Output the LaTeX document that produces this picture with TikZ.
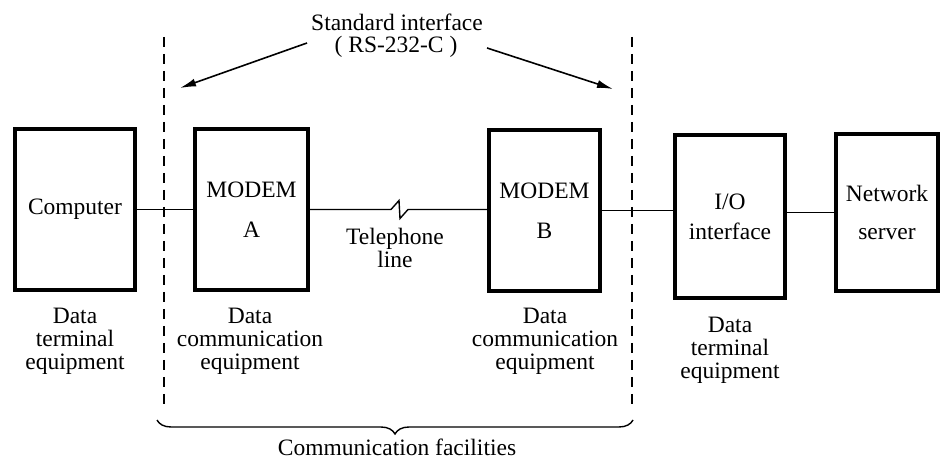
\documentclass[tikz,border=0pt]{standalone}
\usepackage{fontspec}
\setmainfont{Liberation Serif}
\usetikzlibrary{arrows.meta,decorations.pathreplacing,calc}
\begin{document}
\begin{tikzpicture}[x=0.5pt,y=-0.5pt,
  box/.style={draw,line width=2pt,inner sep=0pt,align=center,font=\fontsize{11.75}{14}\selectfont},
  lbl/.style={inner sep=0pt,align=center,font=\fontsize{11.75}{11.5}\selectfont},
  wire/.style={line width=0.7pt},
  sepline/.style={line width=0.7pt,dash pattern=on 5pt off 3.5pt},
  arr/.style={line width=0.8pt,-{Latex[length=8pt,width=4pt]}},
  bracestyle/.style={line width=0.7pt,decorate,decoration={brace,amplitude=7pt,mirror}}]
\useasboundingbox (0,0) rectangle (942,459);
% boxes
\node[box,minimum width=60pt,minimum height=80.5pt] (comp) at (75,209.5) {Computer};
\node[box,minimum width=56.5pt,minimum height=80.5pt] (modA) at (251.5,209.5) {MODEM\\[6pt]A};
\node[box,minimum width=55.5pt,minimum height=80.5pt] (modB) at (544.5,210.5) {MODEM\\[6pt]B};
\node[box,minimum width=55pt,minimum height=81.5pt] (io) at (730,216.5) {I/O\\[1pt]interface};
\node[box,minimum width=51pt,minimum height=78.5pt] (net) at (887,212.5) {Network\\[5pt]server};
% connectors
\draw[wire] (comp.east) -- (modA.west);
\draw[wire] (modA.east) -- ++(81,0) -- ++(8,-9) -- ++(1,18) -- ++(8,-9) -- (modB.west |- modA.east);
\draw[wire] (modB.east) -- (modB.east -| io.west);
\draw[wire] (io.east |- net.west) -- (net.west);
% dashed separators
\coordinate (dl1) at (164,37);
\coordinate (dl2) at (164,410);
\coordinate (dr1) at (632,37);
\coordinate (dr2) at (632,410);
\draw[sepline] (dl1) -- (dl2);
\draw[sepline] (dr1) -- (dr2);
% top labels and arrows
\node[lbl] (std) at (397,22) {Standard interface};
\node[lbl] (rs) at (396,47) {( RS-232-C )};
\coordinate (la) at (307,43);
\coordinate (lt) at (180,88);
\coordinate (ra) at (487,48);
\coordinate (rt) at (613,89);
\draw[arr] (la) -- (lt);
\draw[arr] (ra) -- (rt);
% telephone line
\node[lbl] (tel) at (395,248) {Telephone\\line};
% bottom labels
\node[lbl] (l1) at (75,341) {Data\\terminal\\equipment};
\node[lbl] (l2) at (250,341) {Data\\communication\\equipment};
\node[lbl] (l3) at (545,341) {Data\\communication\\equipment};
\node[lbl] (l4) at (730,350) {Data\\terminal\\equipment};
% brace
\coordinate (b1) at (157,420);
\coordinate (b2) at (633,420);
\draw[bracestyle] (b1) -- (b2);
\node[lbl] (cf) at (397,447) {Communication facilities};
\end{tikzpicture}
\end{document}
